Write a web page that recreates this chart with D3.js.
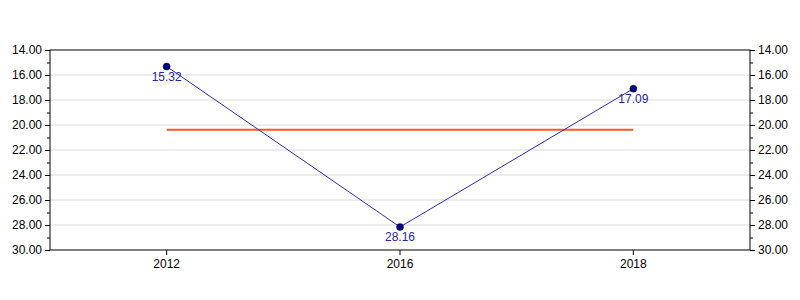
<!DOCTYPE html>
<html>

<head>
    <script type="text/javascript" src="https://d3js.org/d3.v7.min.js"></script>
    <style>
        body { margin: 0; background: #fff; }
        text { font-family: "Liberation Sans", Arial, sans-serif; }
    </style>
</head>

<body>
    <script>
        // chart values
        var years = ['2012', '2016', '2018'];
        var values = [15.32, 28.16, 17.09];
        var targetValue = 20.37;
        var yTicks = [14, 16, 18, 20, 22, 24, 26, 28, 30];
        var yMinorTicks = [15, 17, 19, 21, 23, 25, 27, 29];

        var width = 800, height = 300;
        var margin = {top: 50, right: 50, bottom: 50, left: 50};
        var innerW = width - margin.left - margin.right;
        var innerH = height - margin.top - margin.bottom;

        var svg = d3.select('body').append('svg').attr('width', width).attr('height', height);
        var g = svg.append('g').attr('transform', 'translate(' + margin.left + ',' + margin.top + ')');

        // x is categorical, y is inverted (14 on top)
        var x = d3.scaleBand().domain(years).range([0, innerW]);
        var y = d3.scaleLinear().domain([14, 30]).range([0, innerH]);
        var cx = function(d) { return x(d) + x.bandwidth() / 2; };

        // grid lines
        g.selectAll('line.grid')
            .data(yTicks.slice(1, -1))
            .enter().append('line')
            .attr('class', 'grid')
            .attr('x1', 0).attr('x2', innerW)
            .attr('y1', function(d) { return y(d); })
            .attr('y2', function(d) { return y(d); })
            .attr('stroke', '#d9d9d9');

        // left & right axes, major + minor ticks
        var fmt = d3.format('.2f');
        function drawY(axisFn, tx) {
            var major = g.append('g').attr('transform', 'translate(' + tx + ',0)')
                .call(axisFn(y).tickValues(yTicks).tickFormat(fmt).tickSize(5).tickPadding(3));
            var minor = g.append('g').attr('transform', 'translate(' + tx + ',0)')
                .call(axisFn(y).tickValues(yMinorTicks).tickFormat('').tickSize(3));
            [major, minor].forEach(function(a) {
                a.select('.domain').remove();
                a.selectAll('line').attr('stroke', '#000');
                a.selectAll('text').attr('fill', '#000').style('font-size', '12px');
            });
        }
        drawY(d3.axisLeft, 0);
        drawY(d3.axisRight, innerW);

        // x axis
        var xAxis = g.append('g').attr('transform', 'translate(0,' + innerH + ')')
            .call(d3.axisBottom(x).tickSize(5).tickPadding(4));
        xAxis.select('.domain').remove();
        xAxis.selectAll('line').attr('stroke', '#000');
        xAxis.selectAll('text').attr('fill', '#000').style('font-size', '12px');

        // frame
        g.append('rect').attr('width', innerW).attr('height', innerH)
            .attr('fill', 'none').attr('stroke', '#000');

        // target line
        g.append('line')
            .attr('x1', cx(years[0])).attr('x2', cx(years[years.length - 1]))
            .attr('y1', y(targetValue)).attr('y2', y(targetValue))
            .attr('stroke', '#ff5a1e').attr('stroke-width', 2);

        // data line
        var line = d3.line()
            .x(function(d, i) { return cx(years[i]); })
            .y(function(d) { return y(d); });
        g.append('path').datum(values)
            .attr('d', line)
            .attr('fill', 'none')
            .attr('stroke', '#2b2bb8')
            .attr('stroke-width', 1);

        g.selectAll('circle.pt')
            .data(values)
            .enter().append('circle')
            .attr('class', 'pt')
            .attr('cx', function(d, i) { return cx(years[i]); })
            .attr('cy', function(d) { return y(d); })
            .attr('r', 3.5)
            .attr('fill', '#000080')
            .attr('stroke', '#000040')
            .attr('stroke-width', 0.5);

        g.selectAll('text.lbl')
            .data(values)
            .enter().append('text')
            .attr('class', 'lbl')
            .attr('x', function(d, i) { return cx(years[i]); })
            .attr('y', function(d) { return y(d) + 14; })
            .attr('text-anchor', 'middle')
            .attr('fill', '#2626a6')
            .style('font-size', '12px')
            .text(fmt);
    </script>
</body>

</html>
